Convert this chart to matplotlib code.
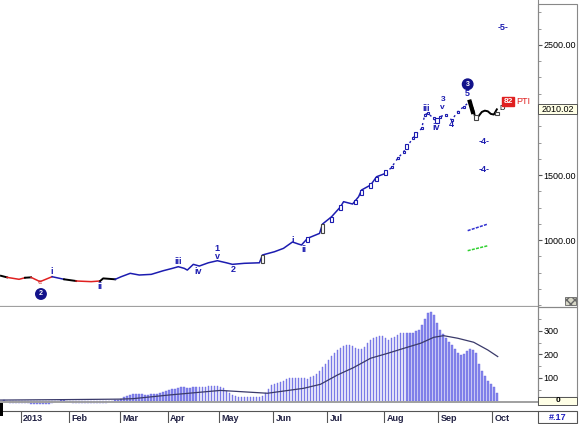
import matplotlib
matplotlib.use("Agg")
import matplotlib.pyplot as plt
from matplotlib.patches import Rectangle
import numpy as np

plt.rcParams['font.family'] = ['Liberation Sans', 'DejaVu Sans']

# ---- data (x = bar index) ----
price_idx = [-1, 1, 5, 7, 9, 12, 16, 20, 24, 29, 32, 33, 37, 39, 42, 45, 49, 53, 56, 58,
             60, 61, 63, 65, 68, 71, 74, 76, 80, 85, 86, 90, 93, 96, 98, 99, 101, 105, 106,
             109, 112, 113, 116, 118, 119, 122, 124, 127, 129, 131, 133, 136, 139, 140, 141,
             143, 144, 145, 147, 149, 151, 153, 155, 156, 157, 158, 159, 160, 161, 162, 163, 164]
price_val = [725, 713, 698, 710, 713, 680, 718, 698, 685, 680, 685, 705, 698, 718, 744, 731,
             736, 764, 782, 795, 782, 769, 813, 800, 825, 841, 825, 813, 821, 825, 885, 910,
             936, 985, 969, 962, 1013, 1051, 1123, 1179, 1256, 1295, 1277, 1333, 1385, 1423,
             1487, 1513, 1560, 1628, 1679, 1782, 1859, 1962, 1975, 1936, 1910, 1949, 1962,
             1923, 1987, 2026, 2064, 2010, 1930, 1955, 1985, 1995, 1990, 1970, 1965, 2005]

# wave colouring of the price line: (first bar, last bar, colour)
segments = [(-1, 1, 'black'), (1, 7, '#e02020'), (7, 9, 'black'), (9, 16, '#e02020'),
            (16, 20, '#1c1cb0'), (20, 24, 'black'), (24, 32, '#e02020'), (32, 37, 'black'),
            (37, 127, '#1c1cb0'), (127, 155, '#1c1cb0'), (155, 164, 'black')]

cand_idx = [86, 101, 106, 109, 112, 117, 119, 122, 124, 127, 134, 137, 144, 157, 164]
cand_lo = [825, 985, 1051, 1138, 1230, 1277, 1346, 1400, 1454, 1500, 1700, 1792, 1900, 1925, 1960]
cand_hi = [885, 1023, 1123, 1177, 1270, 1308, 1385, 1440, 1485, 1540, 1740, 1830, 1935, 1960, 1985]

proj_x = [154.3, 161]
proj_blue = [1072, 1123]
proj_green = [918, 956]

osc = [6, 4, -5, -6, -7, -7, -8, -8, -8, -9, -9, -10, -11, -12, -11, -9, -6, -3, 3, 6,
       5, 3, -4, -6, -7, -7, -8, -8, -8, -8, -7, -7, -7, -6, -5, 2, 4, 5, 7, 12,
       18, 24, 28, 30, 31, 31, 30, 29, 29, 30, 31, 33, 36, 40, 44, 48, 51, 55, 58, 60,
       60, 59, 59, 60, 61, 61, 62, 63, 64, 66, 66, 64, 62, 56, 46, 36, 27, 22, 20, 19,
       18, 18, 17, 17, 18, 20, 23, 35, 55, 68, 74, 78, 84, 89, 94, 99, 100, 101, 101, 100,
       98, 97, 103, 110, 118, 130, 145, 160, 178, 195, 205, 218, 228, 234, 239, 240, 236, 228,
       223, 225, 233, 248, 262, 270, 276, 280, 278, 268, 262, 268, 274, 283, 290, 292, 292,
       291, 293, 298, 305, 325, 350, 375, 382, 368, 335, 305, 288, 272, 255, 240, 222, 205,
       198, 200, 215, 222, 218, 205, 158, 130, 108, 88, 75, 62, 38]

ma_idx = [-1.3, 21, 38.7, 43, 55.3, 72, 87.7, 99.7, 105.3, 111, 116.3, 122, 127.7, 133,
          138.7, 143, 146.3, 151, 156.3, 161, 164.3]
ma_val = [6, 8, 10, 12, 28, 47, 35, 56, 73, 113, 144, 184, 205, 226, 248, 273, 280, 269,
          252, 219, 191]

month_start = [6, 22, 39, 55, 72, 90, 108, 127, 145, 163]
month_lbl = ['2013', 'Feb', 'Mar', 'Apr', 'May', 'Jun', 'Jul', 'Aug', 'Sep', 'Oct']

last_price = 2010.02

W, H = 580, 424
NAVY = '#1c1cb0'


def fr(x0, y0, x1, y1):
    return [x0 / W, 1 - y1 / H, (x1 - x0) / W, (y1 - y0) / H]


def pixbox(x0, y0, x1, y1, **kw):
    # rectangle given in figure pixels (top-left origin)
    fig.add_artist(Rectangle((x0 / W, 1 - y1 / H), (x1 - x0) / W, (y1 - y0) / H,
                             transform=fig.transFigure, **kw))


fig = plt.figure(figsize=(5.8, 4.24), dpi=100)
XL = (-1.33, 177.7)

# ---------------- price panel ----------------
ax = fig.add_axes(fr(0, 0, 538, 307))
ax.set_xlim(*XL)
ax.set_ylim(485, 2846)
for s in ['top', 'left']:
    ax.spines[s].set_visible(False)
ax.spines['right'].set_color('#888888')
ax.spines['bottom'].set_color('#a0a0a0')
ax.spines['bottom'].set_linewidth(1.6)
ax.set_xticks([])
ax.yaxis.tick_right()
ax.set_yticks([1000, 1500, 2000, 2500])
ax.set_yticklabels(['1000.00', '1500.00', '', '2500.00'])
ax.set_yticks(np.arange(500, 2850, 125), minor=True)
ax.tick_params(axis='y', which='major', length=3, pad=1, labelsize=6.5, color='#555555')
ax.tick_params(axis='y', which='minor', length=2, color='#888888')

px = np.array(price_idx)
pv = np.array(price_val)
for a, b, c in segments:
    m = (px >= a) & (px <= b)
    if a == 127:
        ax.plot(px[m], pv[m], color=c, lw=1.0, ls=(0, (1.5, 2.5)), marker='s', ms=1.6,
                mfc='white', mec=c, mew=0.8)
    else:
        ax.plot(px[m], pv[m], color=c, lw=1.1 if c != 'black' else 1.4)
# thick black drop after the top
ax.plot([155, 156], [2064, 1985], color='black', lw=3)

for i, lo, hi in zip(cand_idx, cand_lo, cand_hi):
    ec = '#444444' if i in (86, 106, 157, 164) else NAVY
    ax.add_patch(Rectangle((i - 0.6, lo), 1.2, hi - lo, fc='white', ec=ec, lw=0.8, zorder=3))

ax.plot(proj_x, proj_blue, color='#3030d0', lw=1.1, ls=(0, (2, 0.8)))
ax.plot(proj_x, proj_green, color='#30d030', lw=1.1, ls=(0, (2, 0.8)))

lab = dict(color=NAVY, fontsize=6.5, fontweight='bold', ha='center', va='center')
for t, x, y in [('i', 16, 756), ('ii', 32, 641), ('iii', 58, 838), ('iv', 64.7, 756),
                ('1', 71, 936), ('v', 71, 877), ('2', 76.3, 775), ('i', 96, 1000),
                ('ii', 99.7, 931), ('iii', 140.5, 2008), ('iv', 143.7, 1869), ('4', 149, 1885),
                ('5', 154.3, 2128), ('-5-', 166, 2633), ('-4-', 159.7, 1756),
                ('-4-', 159.7, 1546)]:
    ax.text(x, y, t, **lab)
ax.text(146, 2077, '3', color=NAVY, fontsize=6, fontweight='bold', ha='center', va='center')
ax.text(146, 2020, 'v', color=NAVY, fontsize=6, fontweight='bold', ha='center', va='center')
ax.text(12, 672, 'c', color='#d04040', fontsize=6, ha='center', va='center')
for t, x, y in [('2', 12.3, 585), ('3', 154.3, 2198)]:
    ax.text(x, y, t, color='white', fontsize=5, fontweight='bold', ha='center', va='center',
            bbox=dict(boxstyle='circle,pad=0.25', fc='#12128a', ec='#12128a'))
ax.text(165, 2008, 'D', color='black', fontsize=5.5, ha='left', va='center')
ax.text(167.7, 2064, '82', color='white', fontsize=6, fontweight='bold', ha='center', va='center',
        bbox=dict(boxstyle='square,pad=0.15', fc='#e02020', ec='#e02020'))
ax.text(170.3, 2064, 'PTI', color='#e02020', fontsize=6.5, ha='left', va='center')

# ---------------- oscillator panel ----------------
ax2 = fig.add_axes(fr(0, 307, 538, 405))
ax2.set_xlim(*XL)
ax2.set_ylim(-15, 402)
for s in ['left', 'bottom', 'top']:
    ax2.spines[s].set_visible(False)
ax2.spines['right'].set_color('#888888')
ax2.set_xticks([])
ax2.yaxis.tick_right()
ax2.set_yticks([100, 200, 300])
ax2.set_yticks(np.arange(0, 400, 50), minor=True)
ax2.tick_params(axis='y', which='major', length=3, pad=1, labelsize=6.5, color='#555555')
ax2.tick_params(axis='y', which='minor', length=2, color='#888888')
ax2.bar(np.arange(len(osc)), osc, width=0.55, color='#8585ec', edgecolor='#6a6ae0', lw=0.3)
ax2.axhline(-4, color='#a0a0a0', lw=1.4)
ax2.plot(ma_idx, ma_val, color='#3a3a6a', lw=0.9)

# right-hand frames and value boxes
pixbox(538, 4, 577, 307, fill=False, ec='#888888', lw=0.8)
pixbox(538, 307, 577, 397, fill=False, ec='#888888', lw=0.8)
pixbox(538, 104, 577, 114, fc='#ffffe6', ec='#555555', lw=0.7)
fig.text(557.5 / W, 1 - 109 / H, f'{last_price:.2f}', fontsize=6.5, ha='center', va='center')
pixbox(538, 397, 577, 405, fc='#ffffe6', ec='#555555', lw=0.7)
fig.text(557.5 / W, 1 - 401 / H, '0', fontsize=6, fontweight='bold', ha='center', va='center')
pixbox(565, 297, 576, 305, fc='#d8d8c8', ec='#666666', lw=0.6, hatch='xxxx')

# ---------------- date strip ----------------
ax3 = fig.add_axes(fr(0, 411, 538, 423))
ax3.set_xlim(*XL)
ax3.set_ylim(0, 1)
ax3.set_xticks([])
ax3.set_yticks([])
for s in ['left', 'right', 'bottom']:
    ax3.spines[s].set_visible(False)
ax3.spines['top'].set_color('#555555')
for m, t in zip(month_start, month_lbl):
    ax3.axvline(m - 0.5, color='#555555', lw=0.8)
    ax3.text(m + 0.3, 0.35, t, fontsize=6.5, fontweight='bold', color='#222244',
             ha='left', va='center')
pixbox(0, 403, 3, 416, fc='black', ec='none')
pixbox(538, 411, 577, 423, fill=False, ec='#555555', lw=0.8)
fig.text(557.5 / W, 1 - 417 / H, '#.17', fontsize=6.5, fontweight='bold', color='#2020c0',
         ha='center', va='center')

fig.savefig('out.png', dpi=100)
